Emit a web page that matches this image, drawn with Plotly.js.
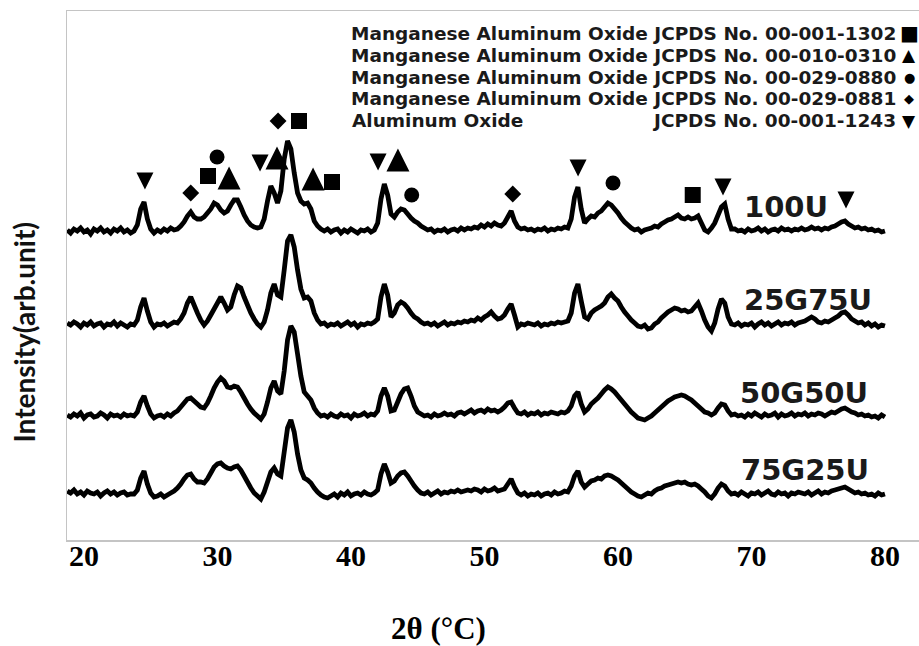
<!DOCTYPE html>
<html>
<head>
<meta charset="utf-8">
<script src="https://cdn.plot.ly/plotly-3.0.1.min.js"></script>
<style>
  html, body { margin: 0; padding: 0; background: #fff; }
  #chart { width: 919px; height: 646px; }
</style>
</head>
<body>
<div id="chart"></div>
<script>
// 2θ scan grid (degrees), 0.25° step
const twoTheta = [
  18.75,19,19.25,19.5,19.75,20,20.25,20.5,20.75,21,21.25,21.5,21.75,22,22.25,22.5,22.75,23,23.25,23.5,
  23.75,24,24.25,24.5,24.75,25,25.25,25.5,25.75,26,26.25,26.5,26.75,27,27.25,27.5,27.75,28,28.25,28.5,
  28.75,29,29.25,29.5,29.75,30,30.25,30.5,30.75,31,31.25,31.5,31.75,32,32.25,32.5,32.75,33,33.25,33.5,
  33.75,34,34.25,34.5,34.75,35,35.25,35.5,35.75,36,36.25,36.5,36.75,37,37.25,37.5,37.75,38,38.25,38.5,
  38.75,39,39.25,39.5,39.75,40,40.25,40.5,40.75,41,41.25,41.5,41.75,42,42.25,42.5,42.75,43,43.25,43.5,
  43.75,44,44.25,44.5,44.75,45,45.25,45.5,45.75,46,46.25,46.5,46.75,47,47.25,47.5,47.75,48,48.25,48.5,
  48.75,49,49.25,49.5,49.75,50,50.25,50.5,50.75,51,51.25,51.5,51.75,52,52.25,52.5,52.75,53,53.25,53.5,
  53.75,54,54.25,54.5,54.75,55,55.25,55.5,55.75,56,56.25,56.5,56.75,57,57.25,57.5,57.75,58,58.25,58.5,
  58.75,59,59.25,59.5,59.75,60,60.25,60.5,60.75,61,61.25,61.5,61.75,62,62.25,62.5,62.75,63,63.25,63.5,
  63.75,64,64.25,64.5,64.75,65,65.25,65.5,65.75,66,66.25,66.5,66.75,67,67.25,67.5,67.75,68,68.25,68.5,
  68.75,69,69.25,69.5,69.75,70,70.25,70.5,70.75,71,71.25,71.5,71.75,72,72.25,72.5,72.75,73,73.25,73.5,
  73.75,74,74.25,74.5,74.75,75,75.25,75.5,75.75,76,76.25,76.5,76.75,77,77.25,77.5,77.75,78,78.25,78.5,
  78.75,79,79.25,79.5,79.75,80
];

// Sample names (stacked from top to bottom)
const sampleNames = ['100U', '25G75U', '50G50U', '75G25U'];

// Diffracted intensity above each pattern's own background (arb. units)
const int100U = [
  1,-2,2,0,3,-1,1,-3,2,0,3,-1,1,-2,2,0,3,-1,1,-2,
  0,6,22,29,12,2,-2,1,-1,2,0,3,1,2,5,9,15,19,14,12,
  12,14,18,22,28,26,21,18,20,26,31,31,24,16,10,6,4,3,4,12,
  30,45,38,28,40,72,90,82,58,38,30,27,28,22,10,5,2,0,2,-1,
  1,2,-2,1,-1,2,0,-2,1,0,2,-1,1,8,32,47,36,17,14,19,
  22,21,17,13,10,8,5,3,1,2,-1,1,0,2,-1,1,2,0,3,1,
  3,2,4,3,6,4,7,5,8,6,5,8,14,20,10,4,2,3,1,2,
  0,2,1,3,0,2,1,3,2,4,3,12,34,44,22,8,12,15,14,18,
  20,24,28,26,22,18,13,9,6,3,1,2,-1,1,2,3,5,4,7,9,
  11,12,14,16,13,12,14,12,13,15,8,1,-1,3,8,16,24,27,12,2,
  2,0,1,-1,2,0,1,3,0,2,-1,1,2,0,3,1,2,0,2,1,
  3,1,2,4,2,3,1,3,2,4,5,7,9,10,7,5,3,4,2,3,
  1,2,0,1,-1,0
];
const int25G75U = [
  2,0,3,1,-2,2,0,3,-1,1,2,-2,1,0,3,-1,2,0,-2,1,
  0,5,18,27,14,3,-2,1,0,2,-1,1,3,2,6,12,22,28,20,12,
  5,0,4,10,16,22,28,22,15,18,30,39,37,28,20,12,6,1,-2,3,
  15,32,41,30,28,55,84,90,78,55,36,27,28,24,12,5,1,2,-1,1,
  0,2,-1,1,3,0,2,-2,1,0,2,1,3,6,28,41,30,8,12,20,
  23,21,17,12,8,6,3,1,2,0,2,-1,1,3,0,2,1,3,2,4,
  3,5,4,7,5,8,10,13,9,6,7,10,16,21,10,-2,1,0,2,1,
  0,2,-1,1,0,2,1,3,2,3,4,12,32,41,24,8,6,12,15,17,
  19,22,28,31,27,24,18,13,9,5,2,-1,-2,0,-4,-3,1,3,7,10,
  13,15,17,16,14,15,13,14,18,22,14,5,-2,-6,2,16,26,22,8,1,
  0,2,-1,1,0,2,-2,1,3,0,2,-1,1,3,0,2,1,3,0,2,
  3,4,6,8,6,3,2,4,3,5,7,9,12,13,10,6,4,2,3,0,
  2,-1,1,-2,0,-1
];
const int50G50U = [
  1,-1,2,0,3,-2,1,2,-1,0,3,1,-2,2,0,1,-1,2,0,1,
  0,4,14,20,10,2,-2,0,1,-1,2,0,3,5,9,13,17,18,15,12,
  9,8,13,20,28,34,38,35,29,28,30,29,24,18,12,7,3,0,-3,2,
  14,28,35,25,22,45,76,90,84,62,40,24,20,16,8,3,0,1,-1,2,
  0,-1,2,0,1,-2,2,0,1,3,0,2,1,5,20,28,20,5,6,14,
  22,27,28,20,10,4,2,0,1,-1,2,0,1,3,1,2,0,3,4,2,
  4,6,3,5,6,4,7,5,6,4,6,9,13,14,8,3,2,4,1,3,
  2,4,1,3,2,4,3,2,4,3,5,10,20,24,12,4,7,12,15,18,
  22,26,29,27,24,20,16,12,8,4,1,-2,-3,-4,-2,0,3,6,9,12,
  15,17,19,20,21,20,18,16,13,10,7,4,3,1,3,8,12,11,5,1,
  2,0,1,-1,2,0,3,1,-1,2,0,1,3,-1,2,0,1,3,0,2,
  1,3,0,2,1,3,2,0,2,4,3,5,7,8,6,4,3,1,2,0,
  1,-1,0,-2,1,-1
];
const int75G25U = [
  3,1,4,0,2,-1,3,1,0,2,-2,1,3,0,2,-1,1,2,-1,0,
  0,4,16,23,10,1,-3,-2,0,-3,-1,1,3,6,10,15,19,20,15,12,
  12,11,15,21,27,30,31,28,26,25,27,28,24,18,12,6,1,-2,-5,2,
  12,22,26,20,18,42,66,74,62,40,24,16,14,11,6,2,-1,-3,-4,-2,
  0,-3,1,-1,2,-2,0,1,-1,2,0,-1,1,4,20,30,22,11,13,18,
  21,22,18,13,8,4,1,0,2,-1,1,3,0,2,1,3,2,4,2,3,
  4,3,5,4,2,5,3,4,6,3,4,5,10,15,7,1,-1,1,-2,0,
  -1,1,-2,0,1,-1,2,0,1,3,2,8,18,23,12,7,10,13,14,16,
  15,18,19,18,16,14,11,8,5,2,0,-2,-3,-1,1,0,3,5,6,8,
  9,10,11,12,11,12,10,9,10,8,5,2,-2,-4,0,6,10,8,3,0,
  1,-1,2,0,-2,1,0,2,-1,1,3,0,-1,2,0,1,-2,1,0,2,
  1,0,2,-1,1,3,0,2,1,3,4,5,6,7,5,3,1,2,0,1,
  -1,0,-2,1,-1,0
];

// Vertical stacking offsets of the four patterns
const stackOffsets = [309, 215, 124, 46];

// Phase identification marks placed over the 100U pattern (2θ, height)
const mnAl1302Theta = [29.29, 36.11, 38.58, 65.60];
const mnAl1302Y     = [364, 419, 358, 345];
const mnAl0310Theta = [30.87, 34.46, 37.16, 43.52];
const mnAl0310Y     = [373.5, 393.5, 372.5, 391.5];
const mnAl0880Theta = [29.97, 44.55, 59.63];
const mnAl0880Y     = [383, 345, 357];
const mnAl0881Theta = [28.00, 34.54, 52.12];
const mnAl0881Y     = [347, 419, 346];
const al2o3Theta    = [24.57, 33.19, 42.03, 57.01, 67.87, 77.08];
const al2o3Y        = [350.5, 368.5, 369.5, 363.5, 344.5, 331.5];

// Key text
const phaseNames = [
  'Manganese Aluminum Oxide', 'Manganese Aluminum Oxide', 'Manganese Aluminum Oxide',
  'Manganese Aluminum Oxide', 'Aluminum Oxide'
];
const phaseCards = [
  'JCPDS No. 00-001-1302', 'JCPDS No. 00-010-0310', 'JCPDS No. 00-029-0880',
  'JCPDS No. 00-029-0881', 'JCPDS No. 00-001-1243'
];
const phaseGlyphs = ['■', '▲', '●', '◆', '▼'];

// Sample label anchor points (2θ, height)
const sampleLabelTheta = [72.59, 74.24, 73.94, 74.01];
const sampleLabelY     = [333, 240, 147, 70];

const xTicks = [20, 30, 40, 50, 60, 70, 80];

const patterns = [int100U, int25G75U, int50G50U, int75G25U];

const traces = patterns.map((vals, i) => ({
  type: 'scatter',
  mode: 'lines',
  name: sampleNames[i],
  x: twoTheta,
  y: vals.map(v => v + stackOffsets[i]),
  line: { color: '#000000', width: 4.8, simplify: false },
  hoverinfo: 'skip',
  showlegend: false
}));

function markTrace(xs, ys, symbol, size) {
  return {
    type: 'scatter', mode: 'markers', x: xs, y: ys,
    marker: { symbol: symbol, size: size, color: '#000000', line: { width: 0 } },
    hoverinfo: 'skip', showlegend: false, cliponaxis: false
  };
}
traces.push(markTrace(mnAl1302Theta, mnAl1302Y, 'square', 16));
traces.push(markTrace(mnAl0310Theta, mnAl0310Y, 'arrow-up', 23));
traces.push(markTrace(mnAl0880Theta, mnAl0880Y, 'circle', 15));
traces.push(markTrace(mnAl0881Theta, mnAl0881Y, 'diamond', 13));
traces.push(markTrace(al2o3Theta, al2o3Y, 'arrow-down', 17));

const keyFont = { family: 'DejaVu Sans, sans-serif', size: 18.5, weight: 'bold', color: '#1a1a1a' };
const keyRowsY = [0.9584, 0.9168, 0.8752, 0.8337, 0.7921];
const glyphSizes = [20, 17, 13, 13, 17];

const annotations = [];
phaseNames.forEach((nm, i) => {
  const last = i === phaseNames.length - 1;
  if (last) {
    // short name on the left, card number aligned to the right column
    annotations.push({ xref: 'paper', yref: 'paper', x: 0.3322, y: keyRowsY[i], text: nm,
      showarrow: false, xanchor: 'left', yanchor: 'middle', font: keyFont });
    annotations.push({ xref: 'paper', yref: 'paper', x: 0.9754, y: keyRowsY[i], text: phaseCards[i],
      showarrow: false, xanchor: 'right', yanchor: 'middle', font: keyFont });
  } else {
    annotations.push({ xref: 'paper', yref: 'paper', x: 0.9754, y: keyRowsY[i],
      text: nm + ' ' + phaseCards[i],
      showarrow: false, xanchor: 'right', yanchor: 'middle', font: keyFont });
  }
  annotations.push({ xref: 'paper', yref: 'paper', x: 0.9883, y: keyRowsY[i], text: phaseGlyphs[i],
    showarrow: false, xanchor: 'center', yanchor: 'middle',
    font: { family: 'DejaVu Sans, sans-serif', size: glyphSizes[i], color: '#000000' } });
});
sampleNames.forEach((nm, i) => {
  annotations.push({ xref: 'x', yref: 'y', x: sampleLabelTheta[i], y: sampleLabelY[i], text: nm,
    showarrow: false, xanchor: 'center', yanchor: 'middle',
    font: { family: 'DejaVu Sans, sans-serif', size: 29, weight: 'bold', color: '#1a1a1a' } });
});
// axis titles
annotations.push({ xref: 'paper', yref: 'paper', x: 0.4366, y: -0.168, text: '2θ (°C)',
  showarrow: false, xanchor: 'center', yanchor: 'middle',
  font: { family: 'Liberation Serif, Times New Roman, serif', size: 31, weight: 'bold', color: '#000000' } });
annotations.push({ xref: 'paper', yref: 'paper', x: -0.0500, y: 0.393, text: 'Intensity(arb.unit)',
  textangle: -90, showarrow: false, xanchor: 'center', yanchor: 'middle',
  font: { family: 'Lato, sans-serif', size: 28, weight: 'bold', color: '#111111' } });

const layout = {
  width: 919,
  height: 646,
  margin: { l: 67, r: 0, t: 11, b: 106, pad: 0 },
  paper_bgcolor: '#ffffff',
  plot_bgcolor: '#ffffff',
  showlegend: false,
  xaxis: {
    range: [18.73, 82.55],
    tickmode: 'array',
    tickvals: xTicks,
    ticktext: xTicks.map(String),
    ticks: '',
    ticklabelstandoff: -12,
    showgrid: false,
    zeroline: false,
    showline: true,
    mirror: true,
    linecolor: '#c4c4c4',
    linewidth: 1.5,
    tickfont: { family: 'Liberation Serif, Times New Roman, serif', size: 30, weight: 'bold', color: '#000000' }
  },
  yaxis: {
    range: [0, 529],
    showticklabels: false,
    ticks: '',
    showgrid: false,
    zeroline: false,
    showline: true,
    mirror: true,
    linecolor: '#c4c4c4',
    linewidth: 1.5
  },
  annotations: annotations
};

Plotly.newPlot('chart', traces, layout, { displayModeBar: false, staticPlot: true });
</script>
</body>
</html>
